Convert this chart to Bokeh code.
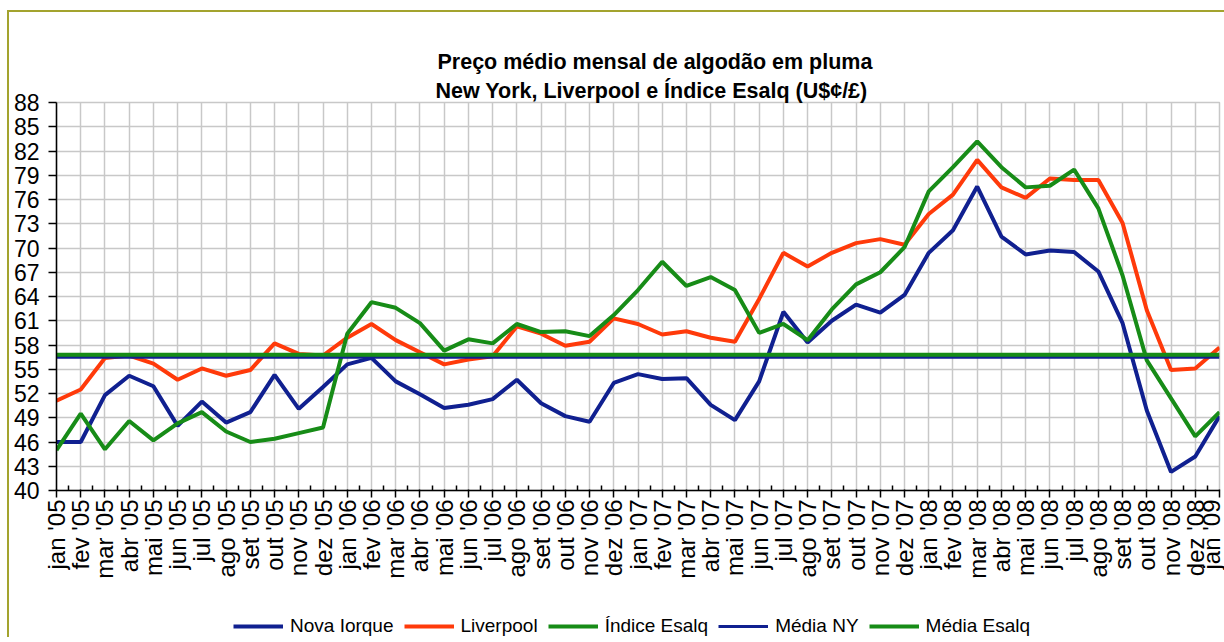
import numpy as np
from bokeh.plotting import figure
from bokeh.layouts import column
from bokeh.models import Range1d, FixedTicker, Title, Legend, LegendItem, LinearAxis
from bokeh.embed import file_html
from bokeh.resources import INLINE

# ---------------- data ----------------
mes_nomes = ["jan", "fev", "mar", "abr", "mai", "jun", "jul", "ago", "set", "out", "nov", "dez"]
anos = ["05", "06", "07", "08"]
meses = [f"{m} '{a}" for a in anos for m in mes_nomes] + ["jan '09"]

nova_iorque = [46.0, 46.0, 51.8, 54.2, 52.9, 48.0, 51.0, 48.4, 49.7, 54.3, 50.1, 52.8,
               55.6, 56.4, 53.5, 51.9, 50.2, 50.6, 51.3, 53.7, 50.8, 49.2, 48.5, 53.3,
               54.4, 53.8, 53.9, 50.6, 48.7, 53.5, 62.1, 58.3, 61.0, 63.0, 62.0, 64.2,
               69.4, 72.2, 77.6, 71.4, 69.2, 69.7, 69.5, 67.1, 60.7, 49.9, 42.3, 44.2,
               49.2]
liverpool = [51.1, 52.5, 56.4, 56.7, 55.7, 53.7, 55.1, 54.2, 54.9, 58.2, 56.9, 56.7,
             58.9, 60.6, 58.6, 57.1, 55.6, 56.2, 56.6, 60.3, 59.4, 57.9, 58.4, 61.3,
             60.6, 59.3, 59.7, 58.9, 58.4, 63.7, 69.4, 67.7, 69.4, 70.6, 71.1, 70.4,
             74.2, 76.6, 80.9, 77.5, 76.2, 78.6, 78.4, 78.4, 73.1, 62.3, 54.9, 55.1,
             57.7]
esalq = [45.0, 49.5, 45.1, 48.6, 46.2, 48.3, 49.7, 47.3, 46.0, 46.4, 47.1, 47.8,
         59.4, 63.3, 62.6, 60.7, 57.3, 58.7, 58.2, 60.6, 59.6, 59.7, 59.1, 61.7,
         64.8, 68.3, 65.3, 66.4, 64.8, 59.5, 60.6, 58.6, 62.4, 65.5, 67.0, 70.1,
         77.0, 80.0, 83.2, 80.0, 77.5, 77.7, 79.7, 74.9, 66.6, 56.1, 51.4, 46.7,
         49.7]
media_ny = 56.5
media_esalq = 56.8

series_names = ["Nova Iorque", "Liverpool", "Índice Esalq", "Média NY", "Média Esalq"]
y_ticks = list(range(40, 89, 3))

# ---------------- figure ----------------
x = list(range(len(meses)))
FONT = "Liberation Sans"
BLUE = "#102090"
RED = "#ff3a0a"
GREEN = "#178c17"
OLIVE = "#a3a32e"
colors = [BLUE, RED, GREEN, BLUE, GREEN]
widths = [4, 4, 4, 3, 4]

p = figure(frame_width=1163, frame_height=388, output_backend="svg", toolbar_location=None,
           x_range=Range1d(0, len(meses) - 1), y_range=Range1d(min(y_ticks), max(y_ticks)),
           min_border_left=47, min_border_right=5, min_border_top=90, min_border_bottom=0)

# the real axes (taken before the spacer axis is added)
xa = p.below[0]
ya = p.left[0]

# axis without ticks, used only as spacing between the frame and the two title lines
p.add_layout(LinearAxis(ticker=FixedTicker(ticks=[]), axis_line_color=None,
                        major_tick_line_color="white", minor_tick_line_color=None,
                        major_tick_in=0, major_tick_out=17, minor_tick_out=0,
                        major_label_standoff=0), "above")
p.add_layout(Title(text="New York, Liverpool e Índice Esalq (U$¢/£)", align="left",
                   offset=379, text_font=FONT, text_font_size="21.5px", text_font_style="bold",
                   text_color="black", standoff=0), "above")
p.add_layout(Title(text="Preço médio mensal de algodão em pluma", align="left",
                   offset=381, text_font=FONT, text_font_size="21.5px", text_font_style="bold",
                   text_color="black", standoff=6), "above")

p.outline_line_color = "#c8c8c8"
p.outline_line_width = 1.5

# grids
p.xgrid.ticker = FixedTicker(ticks=x)
p.ygrid.ticker = FixedTicker(ticks=y_ticks)
for g in (p.xgrid, p.ygrid):
    g.grid_line_color = "#c8c8c8"
    g.grid_line_width = 1.5

# x axis
xa.ticker = FixedTicker(ticks=x, minor_ticks=[i + 0.5 for i in x[:-1]])
xa.major_label_overrides = {i: m for i, m in enumerate(meses)}
xa.major_label_orientation = np.pi / 2
xa.major_label_text_font = FONT
xa.major_label_text_font_size = "24px"
xa.major_label_text_color = "black"
xa.major_label_standoff = 2
xa.major_tick_in = 1
xa.major_tick_out = 7
xa.minor_tick_in = 5
xa.minor_tick_out = 0
xa.axis_line_color = "black"
xa.axis_line_width = 1.5
xa.major_tick_line_width = 1.5
xa.minor_tick_line_width = 1.5

# y axis
ya.ticker = FixedTicker(ticks=y_ticks)
ya.major_label_text_font = FONT
ya.major_label_text_font_size = "23px"
ya.major_label_text_color = "black"
ya.major_label_standoff = 9
ya.major_tick_in = 0
ya.major_tick_out = 8
ya.minor_tick_line_color = None
ya.axis_line_color = "black"
ya.axis_line_width = 1.5
ya.major_tick_line_width = 1.5

# series
values = [nova_iorque, liverpool, esalq, [media_ny] * len(x), [media_esalq] * len(x)]
for vals, c, w in zip(values, colors, widths):
    p.line(x, vals, line_color=c, line_width=w)

# ---------------- legend strip (below the chart) ----------------
# the strip's ranges leave the series outside its frame: only the legend shows
leg = figure(width=1215, height=56, output_backend="svg", toolbar_location=None,
             x_axis_type=None, y_axis_type=None, min_border=0,
             x_range=Range1d(0, 1), y_range=Range1d(0, 1))
leg.outline_line_color = None
leg.grid.visible = False
items = []
for name, vals, c, w in zip(series_names, values, colors, widths):
    r = leg.line(x, vals, line_color=c, line_width=w)
    items.append(LegendItem(label=name, renderers=[r]))
legend = Legend(items=items, orientation="horizontal", location=(177, 0),
                glyph_width=50, glyph_height=20, label_standoff=7, spacing=10,
                label_text_font=FONT, label_text_font_size="19px",
                label_text_color="black",
                border_line_color=None, background_fill_alpha=0,
                padding=0, margin=0)
leg.add_layout(legend, "center")

layout = column(p, leg, spacing=0)
layout.styles = {"margin-left": "7px", "margin-top": "10px",
                 "border-left": f"2px solid {OLIVE}", "border-top": f"2px solid {OLIVE}"}

open("out.html", "w").write(file_html(layout, INLINE))
